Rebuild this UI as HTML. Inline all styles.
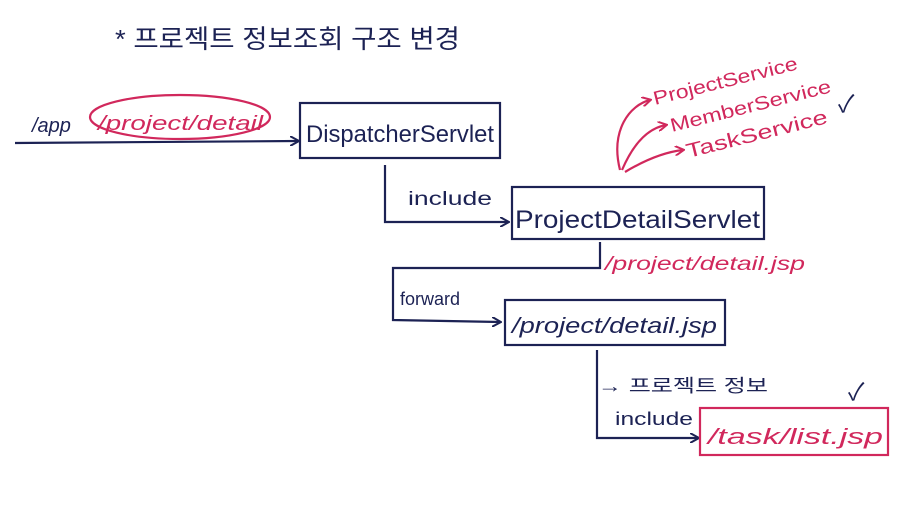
<!DOCTYPE html>
<html><head><meta charset="utf-8"><style>
html,body{margin:0;padding:0;background:#fff;}
svg{display:block}
text{font-family:"Liberation Sans","Noto Sans CJK KR",sans-serif;}
</style></head><body>
<svg width="916" height="512" viewBox="0 0 916 512" xmlns="http://www.w3.org/2000/svg">
<defs>
<marker id="an" markerWidth="10" markerHeight="10" refX="8" refY="5" orient="auto" markerUnits="userSpaceOnUse"><path d="M0,0 L9,5 L0,10" fill="none" stroke="#1c2254" stroke-width="2"/></marker>
<marker id="ap" markerWidth="10" markerHeight="10" refX="8" refY="5" orient="auto" markerUnits="userSpaceOnUse"><path d="M0,0 L9,5 L0,10" fill="none" stroke="#d1285c" stroke-width="2"/></marker>
</defs>
<g fill="#1c2254" stroke="none">
<text x="115" y="48" font-size="26" textLength="345" lengthAdjust="spacingAndGlyphs">* 프로젝트 정보조회 구조 변경</text>
<text x="32" y="132" font-size="20" font-style="italic">/app</text>
<text x="306" y="142" font-size="24" textLength="188" lengthAdjust="spacingAndGlyphs">DispatcherServlet</text>
<text x="408" y="205" font-size="19" textLength="84" lengthAdjust="spacingAndGlyphs">include</text>
<text x="515" y="228" font-size="25" textLength="245" lengthAdjust="spacingAndGlyphs">ProjectDetailServlet</text>
<text x="400" y="305" font-size="18">forward</text>
<text x="512" y="333" font-size="22" font-style="italic" textLength="205" lengthAdjust="spacingAndGlyphs">/project/detail.jsp</text>
<text x="598" y="392" font-size="18" textLength="170" lengthAdjust="spacingAndGlyphs">→ 프로젝트 정보</text>
<text x="615" y="425" font-size="18" textLength="78" lengthAdjust="spacingAndGlyphs">include</text>
<text x="848" y="400" font-size="24">✓</text>
<text x="838" y="112" font-size="24">✓</text>
</g>
<g fill="#d1285c" stroke="none">
<text x="98" y="130" font-size="20" font-style="italic" textLength="165" lengthAdjust="spacingAndGlyphs">/project/detail</text>
<text x="655" y="105" font-size="19" transform="rotate(-14 655 105)" textLength="148" lengthAdjust="spacingAndGlyphs">ProjectService</text>
<text x="672" y="132" font-size="19" transform="rotate(-14 672 132)" textLength="165" lengthAdjust="spacingAndGlyphs">MemberService</text>
<text x="688" y="158" font-size="20" transform="rotate(-14 688 158)" textLength="145" lengthAdjust="spacingAndGlyphs">TaskService</text>
<text x="605" y="270" font-size="19" font-style="italic" textLength="200" lengthAdjust="spacingAndGlyphs">/project/detail.jsp</text>
<text x="708" y="444" font-size="22" font-style="italic" textLength="175" lengthAdjust="spacingAndGlyphs">/task/list.jsp</text>
</g>
<g fill="none" stroke="#1c2254" stroke-width="2.2">
<line x1="15" y1="143" x2="298" y2="141" marker-end="url(#an)"/>
<rect x="300" y="103" width="200" height="55"/>
<polyline points="385,165 385,222 508,222" marker-end="url(#an)"/>
<rect x="512" y="187" width="252" height="52"/>
<polyline points="600,242 600,268 393,268 393,320 500,322" marker-end="url(#an)"/>
<rect x="505" y="300" width="220" height="45"/>
<polyline points="597,350 597,438 698,438" marker-end="url(#an)"/>
</g>
<g fill="none" stroke="#d1285c" stroke-width="2.2">
<ellipse cx="180" cy="117" rx="90" ry="22"/>
<rect x="700" y="408" width="188" height="47"/>
<path d="M620,170 C610,130 630,105 650,100" marker-end="url(#ap)"/>
<path d="M622,170 C635,140 650,128 666,125" marker-end="url(#ap)"/>
<path d="M625,172 C645,160 665,152 683,150" marker-end="url(#ap)"/>
</g>
</svg>
</body></html>
